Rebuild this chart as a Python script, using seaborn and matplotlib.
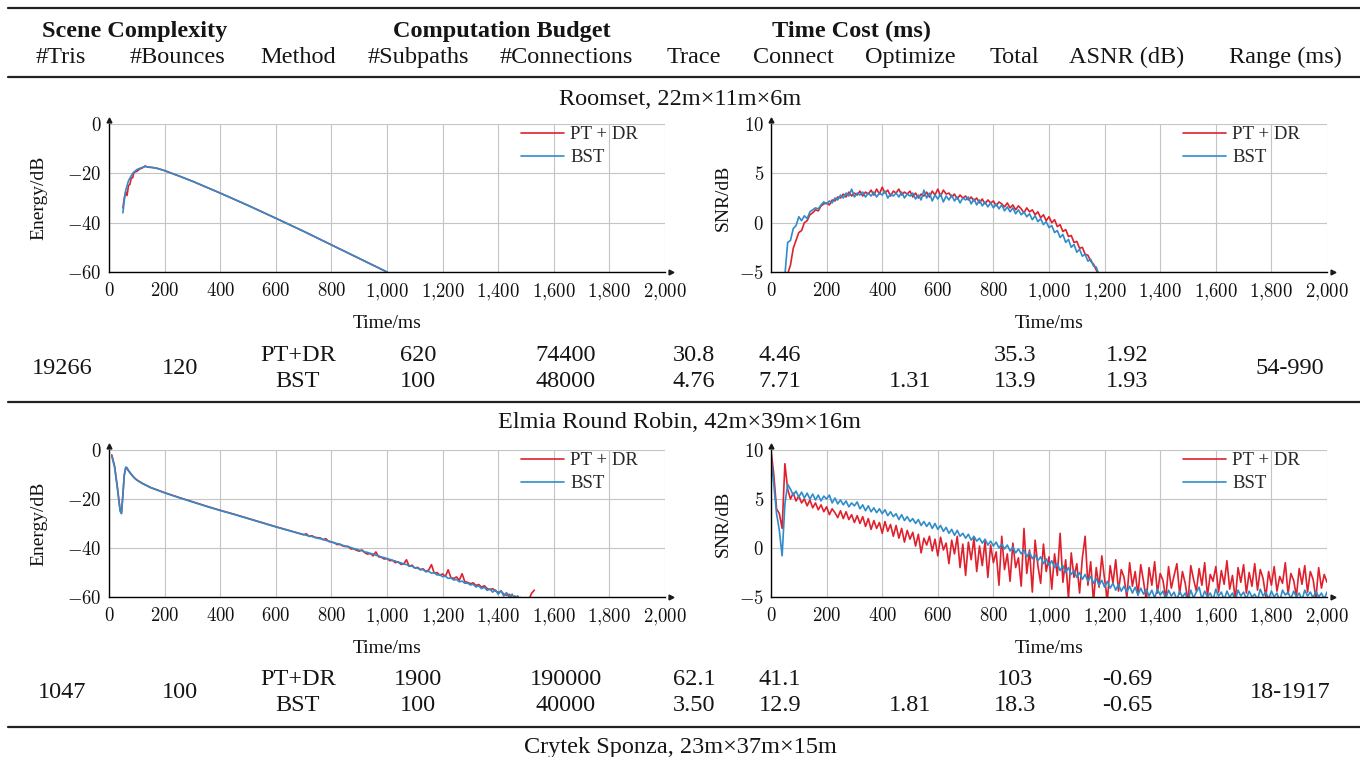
import numpy as np
import pandas as pd
import seaborn as sns
import matplotlib
matplotlib.use("Agg")
import matplotlib.pyplot as plt
from matplotlib.lines import Line2D
from matplotlib.ticker import FuncFormatter, MultipleLocator

W, H = 1360, 757

# ---------------- table content ----------------
group_titles = ["Scene Complexity", "Computation Budget", "Time Cost (ms)"]
col_titles = ["#Tris", "#Bounces", "Method", "#Subpaths", "#Connections",
              "Trace", "Connect", "Optimize", "Total", "ASNR (dB)", "Range (ms)"]
scenes = ["Roomset, 22m\u00d711m\u00d76m",
          "Elmia Round Robin, 42m\u00d739m\u00d716m",
          "Crytek Sponza, 23m\u00d737m\u00d715m"]
methods = ["PT+DR", "BST"]
tris = ["19266", "1047"]
bounces = ["120", "100"]
ranges = ["54-990", "18-1917"]
subpaths = [["620", "100"], ["1900", "100"]]
connections = [["74400", "48000"], ["190000", "40000"]]
trace = [["30.8", "4.76"], ["62.1", "3.50"]]
connect = [["4.46", "7.71"], ["41.1", "12.9"]]
optimize = [["", "1.31"], ["", "1.81"]]
total = [["35.3", "13.9"], ["103", "18.3"]]
asnr = [["1.92", "1.93"], ["-0.69", "-0.65"]]

# ---------------- curves ----------------
series_names = ["PT + DR", "BST"]

# Roomset energy decay
room_e_t = [50, 55, 60, 65, 70, 75, 80, 85, 90, 100, 110, 120, 130, 140, 150, 160, 170,
            180, 200, 250, 300, 400, 500, 600, 700, 800, 900, 1000]
room_e_red = [-34.0, -30.0, -27.5, -29.0, -25.0, -24.5, -22.0, -21.8, -19.6, -19.2, -18.3,
              -17.8, -17.0, -17.5, -17.6, -17.7, -17.9, -18.2, -18.9, -21.0, -23.2, -28.0,
              -33.0, -38.2, -43.5, -49.0, -54.5, -60.0]
room_e_blue = [-36.0, -31.0, -27.0, -25.0, -23.0, -22.0, -21.0, -20.0, -19.5, -18.5, -18.0,
               -17.6, -17.3, -17.4, -17.5, -17.7, -17.9, -18.2, -18.9, -21.0, -23.2, -28.0,
               -33.0, -38.2, -43.5, -49.0, -54.5, -60.0]

# Roomset SNR, sampled every 10 ms
room_s_red_start, room_s_blue_start = 60, 50
room_s_red = [
    -5.2, -4.3, -2.6, -1.8, -1.0, -0.8, 0.0, 0.2, 0.8, 1.0, 1.3, 1.2, 1.7, 1.9, 2.0, 1.8,
    2.3, 2.2, 2.6, 2.5, 2.9, 2.6, 3.1, 2.7, 3.0, 2.8, 3.2, 2.7, 3.1, 2.9, 3.3, 2.8, 3.4,
    2.9, 3.6, 3.0, 3.3, 2.7, 3.2, 3.0, 3.4, 2.8, 3.1, 2.9, 3.2, 2.6, 3.0, 2.5, 2.9, 2.7,
    3.1, 2.6, 3.2, 2.8, 3.4, 2.7, 3.3, 2.9, 3.0, 2.6, 2.9, 2.4, 2.8, 2.5, 2.7, 2.3, 2.6,
    2.2, 2.5, 2.0, 2.4, 1.9, 2.3, 2.0, 2.2, 1.7, 2.1, 1.9, 1.6, 2.0, 1.5, 1.8, 1.3, 1.7,
    1.4, 1.0, 1.5, 1.1, 1.3, 0.8, 1.1, 0.5, 0.8, 0.2, 0.6, 0.0, 0.3, -0.4, -0.2, -0.9,
    -0.7, -1.4, -1.3, -2.0, -1.9, -2.6, -2.5, -3.2, -3.3, -3.9, -4.2, -4.8, -5.3]
room_s_blue = [
    -5.3, -2.0, -1.8, -0.6, -0.3, 0.6, 0.2, 0.7, 0.4, 1.1, 1.3, 1.5, 1.4, 1.8, 2.1, 1.9,
    2.2, 2.0, 2.5, 2.3, 2.8, 2.5, 3.0, 2.7, 3.4, 2.6, 3.0, 2.8, 3.1, 2.6, 3.0, 2.7, 3.1,
    2.6, 3.0, 2.8, 3.2, 2.5, 2.9, 2.7, 3.0, 2.6, 3.1, 2.5, 2.9, 2.7, 3.0, 2.4, 2.8, 2.3,
    3.3, 2.5, 3.0, 2.2, 2.8, 2.4, 2.9, 2.1, 2.7, 2.3, 2.8, 2.2, 2.6, 2.0, 2.5, 2.3, 2.6,
    1.9, 2.4, 1.8, 2.3, 1.7, 2.1, 1.6, 2.0, 1.5, 1.9, 1.4, 1.8, 1.2, 1.6, 1.1, 1.5, 0.9,
    1.3, 0.8, 1.1, 0.6, 0.9, 0.3, 0.7, 0.1, 0.4, -0.2, 0.1, -0.5, -0.3, -1.0, -0.8, -1.5,
    -1.2, -2.0, -1.7, -2.5, -2.2, -3.0, -2.7, -3.4, -3.2, -3.9, -3.7, -4.4, -4.5, -5.3]

# Elmia energy decay: early part on its own times, noisy tail every 10 ms from 700 ms
elmia_e_t_early = [10, 20, 30, 40, 45, 50, 55, 60, 65, 70, 80, 90, 100, 120, 150, 200,
                   250, 300, 350, 400, 450, 500, 550, 600, 650]
elmia_e_red_early = [-2.0, -6.5, -15.0, -24.5, -25.5, -18.0, -10.0, -7.5, -7.6, -8.5, -10.0,
                     -11.2, -12.2, -13.6, -15.3, -17.4, -19.3, -21.1, -22.9, -24.6, -26.2,
                     -27.9, -29.6, -31.3, -32.9]
elmia_e_blue_early = [-2.5, -7.0, -15.5, -25.0, -26.0, -18.5, -10.5, -7.0, -7.2, -8.3, -9.8,
                      -11.3, -12.3, -13.7, -15.4, -17.5, -19.4, -21.2, -23.0, -24.7, -26.3,
                      -28.0, -29.7, -31.4, -33.0]
elmia_e_tail_start = 700
elmia_e_red_tail = [
    -34.6, -34.2, -35.3, -35.0, -35.6, -35.8, -35.9, -36.6, -36.2, -37.3,
    -37.6, -37.8, -38.6, -38.5, -39.1, -39.4, -39.3, -40.4, -40.3, -40.9,
    -41.3, -40.8, -41.9, -42.5, -42.2, -43.2, -41.6, -43.6, -43.8, -44.5,
    -44.3, -45.2, -45.0, -46.0, -45.6, -46.7, -46.5, -44.8, -47.5, -47.0,
    -48.2, -47.9, -48.8, -48.5, -49.6, -49.0, -46.8, -50.3, -50.0, -51.1,
    -50.6, -51.6, -48.9, -52.1, -52.4, -51.8, -53.2, -50.5, -53.8, -54.0,
    -54.6, -54.2, -55.3, -54.9, -56.0, -55.4, -56.5, -57.0, -56.6, -57.5,
    -58.2, -57.6, -58.8, -59.3, -58.9, -60.5, -59.6, -61.0, -60.2, -61.5,
    -60.4, -61.2, -58.5, -57.2]
elmia_e_blue_tail = [
    -34.5, -34.8, -35.1, -35.3, -35.7, -36.0, -36.2, -36.5, -36.9, -37.1,
    -37.5, -37.9, -38.2, -38.4, -38.9, -39.2, -39.5, -39.8, -40.2, -40.5,
    -40.9, -41.1, -41.6, -41.8, -42.3, -42.4, -43.0, -43.2, -43.7, -43.9,
    -44.4, -44.6, -45.1, -45.3, -45.9, -46.0, -46.6, -46.7, -47.4, -47.4,
    -48.1, -48.2, -48.9, -48.8, -49.7, -49.5, -50.3, -50.1, -51.0, -50.9,
    -51.7, -51.5, -52.4, -52.2, -53.1, -52.8, -53.8, -53.5, -54.4, -54.3,
    -55.1, -54.8, -55.9, -55.4, -56.6, -56.0, -57.3, -56.7, -58.0, -57.1,
    -58.9, -57.4, -59.6, -58.2, -60.4, -58.8, -61.0, -59.5, -61.2, -60.5]

# Elmia SNR, sampled every 10 ms from 0 to 2000 ms
elmia_s_start = 0
elmia_s_red = [
    10.0, 7.5, 4.0, 3.5, 2.0, 8.6, 6.0, 5.0, 5.6, 4.8,
    5.3, 4.6, 5.0, 4.3, 4.9, 4.1, 4.6, 3.9, 4.4, 3.7,
    4.2, 3.4, 4.0, 3.6, 3.1, 3.8, 3.0, 3.7, 2.9, 3.4,
    2.6, 3.3, 2.5, 3.2, 2.2, 3.0, 1.9, 2.8, 2.0, 2.6,
    1.5, 2.7, 1.7, 2.4, 1.2, 2.3, 1.0, 2.0, 0.6, 1.8,
    0.9, 1.6, 0.2, 1.4, -0.5, 1.0, 0.3, 1.2, -0.3, 0.9,
    -0.8, 1.1, -0.2, 0.5, -1.6, 0.8, -0.6, 1.2, -2.0, 0.4,
    -2.8, 0.6, -1.2, 1.0, -2.4, 0.2, -1.8, 0.7, -3.0, 0.3,
    -1.5, -0.4, -3.8, 1.2, -2.2, -0.6, -3.4, 0.5, -2.0, -1.0,
    -3.9, 2.0, -2.6, -0.2, -4.5, 0.8, -1.8, -3.6, 0.4, -2.4,
    -0.9, -4.2, -0.6, -2.8, 1.5, -3.5, -1.2, -5.2, -0.5, -3.0,
    -1.6, -4.6, -1.0, 1.2, -3.8, -1.4, -5.5, -2.0, -4.0, -0.8,
    -3.2, -5.3, -1.8, -3.6, -1.2, -4.4, -2.2, -3.0, -5.1, -1.5,
    -3.9, -2.4, -4.8, -1.7, -3.4, -5.4, -2.0, -3.8, -1.4, -4.6,
    -2.6, -3.3, -5.2, -1.9, -4.1, -2.8, -1.6, -4.7, -2.4, -3.6,
    -5.5, -1.8, -3.2, -4.4, -2.1, -3.8, -1.5, -4.9, -2.7, -3.4,
    -1.9, -4.5, -2.3, -3.7, -1.3, -4.2, -2.8, -5.3, -2.0, -3.5,
    -1.7, -4.6, -2.5, -3.9, -1.6, -4.3, -2.2, -3.1, -5.0, -2.4,
    -3.8, -1.9, -4.4, -2.9, -3.6, -1.5, -4.7, -2.6, -3.3, -4.9,
    -2.1, -3.7, -1.8, -4.5, -2.4, -3.2, -5.2, -2.0, -4.1, -2.7, -3.5]
elmia_s_blue = [
    9.2, 6.5, 3.5, 1.8, -0.8, 4.5, 6.5, 6.0, 5.4, 5.8,
    5.2, 5.7, 5.1, 5.6, 5.0, 5.5, 4.9, 5.4, 4.8, 5.3,
    5.0, 5.4, 4.6, 5.1, 4.5, 4.9, 4.4, 4.8, 4.2, 4.6,
    4.3, 4.7, 4.0, 4.4, 3.8, 4.3, 3.7, 4.1, 3.6, 4.0,
    3.5, 3.9, 3.3, 3.7, 3.2, 3.5, 2.9, 3.4, 2.8, 3.2,
    2.7, 3.0, 2.5, 2.9, 2.3, 2.7, 2.2, 2.6, 2.0, 2.5,
    1.9, 2.3, 1.7, 2.1, 1.5, 1.9, 1.3, 1.8, 1.2, 1.5,
    1.0, 1.4, 0.8, 1.2, 0.7, 1.0, 0.5, 0.9, 0.3, 0.7,
    0.2, 0.6, 0.0, 0.4, -0.1, 0.3, -0.3, 0.1, -0.5, -0.1,
    -0.6, -0.2, -0.9, -0.4, -1.1, -0.7, -1.3, -0.9, -1.6, -1.1,
    -1.8, -1.3, -2.0, -1.6, -2.3, -1.8, -2.5, -2.0, -2.7, -2.3,
    -3.0, -2.5, -3.2, -2.7, -3.4, -2.9, -3.6, -3.1, -3.8, -3.3,
    -4.0, -3.4, -4.1, -3.6, -4.3, -3.7, -4.4, -3.9, -4.5, -3.9,
    -4.6, -4.0, -4.8, -4.1, -4.7, -4.2, -4.9, -4.3, -5.1, -4.2,
    -4.8, -4.4, -5.2, -4.3, -4.9, -4.5, -5.3, -4.4, -5.0, -4.6,
    -5.4, -4.3, -5.1, -4.5, -4.0, -5.2, -4.4, -5.0, -4.6, -5.3,
    -4.2, -4.9, -4.5, -5.3, -4.4, -5.0, -4.6, -5.4, -4.3, -4.9,
    -4.5, -5.2, -4.4, -5.0, -4.7, -5.3, -4.2, -4.9, -4.5, -5.2,
    -4.4, -5.0, -4.6, -5.4, -4.3, -4.8, -4.5, -5.2, -4.4, -5.0,
    -4.6, -5.3, -4.3, -4.9, -4.5, -5.1, -4.4, -5.0, -4.6, -5.2, -4.5]

RED = "#e0202c"
BLUE = "#2f8ccb"
palette = {"PT + DR": RED, "BST": BLUE}


def grid_times(start, values, step=10):
    return [start + step * i for i in range(len(values))]


def long_frame(t_red, v_red, t_blue, v_blue):
    a = pd.DataFrame({"t": t_red, "v": v_red, "m": series_names[0]})
    b = pd.DataFrame({"t": t_blue, "v": v_blue, "m": series_names[1]})
    return pd.concat([a, b], ignore_index=True)


sns.set_theme(style="whitegrid")
plt.rcParams["font.family"] = ["Liberation Serif", "DejaVu Serif"]
plt.rcParams["mathtext.fontset"] = "cm"

fig = plt.figure(figsize=(W / 100, H / 100), dpi=100)
fig.patch.set_facecolor("white")


def fx(px):
    return px / W


def fy(py):
    return 1 - py / H


def add_plot(x0, x1, ytop, ybot):
    return fig.add_axes([fx(x0), fy(ybot), (x1 - x0) / W, (ybot - ytop) / H])


def style_axes(ax, ylim, ystep, ylabel, ylab_x):
    ax.set_xlim(0, 2000)
    ax.set_ylim(*ylim)
    ax.xaxis.set_major_locator(MultipleLocator(200))
    ax.yaxis.set_major_locator(MultipleLocator(ystep))
    ax.xaxis.set_major_formatter(
        FuncFormatter(lambda v, p: "$%s$" % f"{int(round(v)):,}".replace(",", "{,}")))
    ax.yaxis.set_major_formatter(FuncFormatter(lambda v, p: "$%d$" % round(v)))
    ax.set_facecolor("white")
    ax.grid(True, color="#c4c4c4", lw=0.8)
    for s in ["top", "right"]:
        ax.spines[s].set_visible(False)
    for s in ["left", "bottom"]:
        ax.spines[s].set_color("black")
        ax.spines[s].set_linewidth(1.0)
    ax.plot(1.01, 0, ">k", ms=3.5, transform=ax.transAxes, clip_on=False)
    ax.plot(0, 1.025, "^k", ms=3.5, transform=ax.transAxes, clip_on=False)
    ax.tick_params(direction="inout", length=4, width=0.6, color="#555555",
                   labelsize=13.5, labelcolor="#111111")
    ax.tick_params(axis="x", pad=5)
    ax.tick_params(axis="y", pad=3)
    ax.set_xlabel("Time/ms", fontsize=14, color="#111111")
    ax.xaxis.set_label_coords(0.5, -0.29)
    ax.set_ylabel(ylabel, fontsize=14, color="#111111")
    ax.yaxis.set_label_coords(ylab_x, 0.5)
    handles = [Line2D([], [], color=RED, lw=1.2), Line2D([], [], color=BLUE, lw=1.2)]
    ax.legend(handles, series_names, loc="upper right", bbox_to_anchor=(0.952, 0.985),
              frameon=False, fontsize=13.5, handlelength=2.3, handletextpad=0.35,
              labelspacing=0.3, borderpad=0, borderaxespad=0)


def draw(ax, df):
    sns.lineplot(data=df, x="t", y="v", hue="m", hue_order=series_names, palette=palette,
                 estimator=None, sort=False, lw=1.2, legend=False, ax=ax)


panels = [
    (109, 665, 124, 272, (-60, 0), 20, "Energy/dB", -0.11,
     long_frame(room_e_t, room_e_red, room_e_t, room_e_blue)),
    (771, 1327, 124, 272, (-5, 10), 5, "SNR/dB", -0.07,
     long_frame(grid_times(room_s_red_start, room_s_red), room_s_red,
                grid_times(room_s_blue_start, room_s_blue), room_s_blue)),
    (109, 665, 450, 597, (-60, 0), 20, "Energy/dB", -0.11,
     long_frame(elmia_e_t_early + grid_times(elmia_e_tail_start, elmia_e_red_tail),
                elmia_e_red_early + elmia_e_red_tail,
                elmia_e_t_early + grid_times(elmia_e_tail_start, elmia_e_blue_tail),
                elmia_e_blue_early + elmia_e_blue_tail)),
    (771, 1327, 450, 597, (-5, 10), 5, "SNR/dB", -0.07,
     long_frame(grid_times(elmia_s_start, elmia_s_red), elmia_s_red,
                grid_times(elmia_s_start, elmia_s_blue), elmia_s_blue)),
]

for x0, x1, yt, yb, ylim, ystep, ylabel, ylab_x, df in panels:
    ax = add_plot(x0, x1, yt, yb)
    draw(ax, df)
    style_axes(ax, ylim, ystep, ylabel, ylab_x)

# ---------------- table text ----------------
TXT = "#151515"
FS = 17.5


def put(x, y, s, **kw):
    # y is the text baseline in pixels
    fig.text(fx(x), fy(y), s, ha="center", va="baseline", fontsize=kw.pop("fs", FS),
             color=TXT, **kw)


def rule(y, lw=1.6):
    fig.add_artist(Line2D([0.006, 1.0], [fy(y), fy(y)], transform=fig.transFigure,
                          color="#222222", lw=lw))


rule(8)
rule(77)
rule(402)
rule(727)

for s, x in zip(group_titles, [135, 502, 852]):
    put(x, 37, s, fontweight="bold")
for s, x in zip(col_titles, [61, 178, 298, 418, 566, 694, 793, 910, 1014, 1127, 1285]):
    put(x, 63, s)

for s, y in zip(scenes, [105, 428, 753]):
    put(680, y, s)

data_x = [418, 566, 694, 780, 910, 1015, 1127]
for k, (r1, r2) in enumerate([(361, 387), (685, 711)]):
    put(62, (r1 + r2) / 2, tris[k])
    put(180, (r1 + r2) / 2, bounces[k])
    put(1290, (r1 + r2) / 2, ranges[k])
    for j, y in enumerate([r1, r2]):
        put(298, y, methods[j])
        cols = [subpaths, connections, trace, connect, optimize, total, asnr]
        for x, col in zip(data_x, cols):
            if col[k][j]:
                put(x, y, col[k][j])

fig.savefig("out.png", dpi=100, facecolor="white")
